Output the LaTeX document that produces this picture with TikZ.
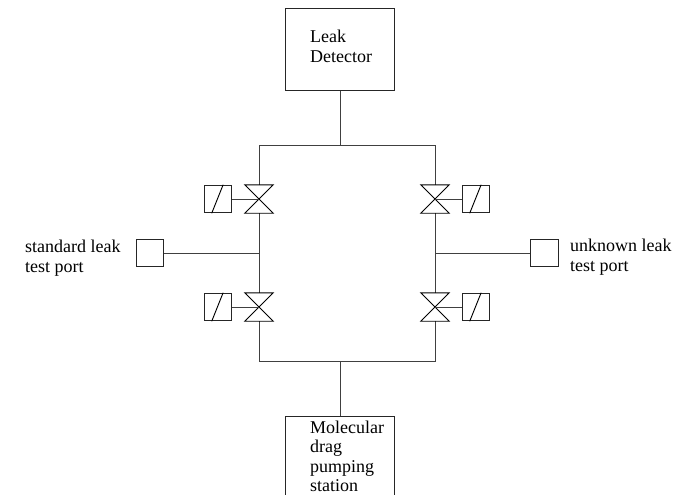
\documentclass[tikz,border=0pt]{standalone}
\usepackage{fontspec}
\usetikzlibrary{calc}
\setmainfont{Liberation Serif}
\tikzset{
  px/.style={x=1pt,y=-1pt},
  line/.style={draw=black!75,line width=0.95pt},
  boxnode/.style={draw=black!85,line width=1pt,fill=white,inner sep=0pt,minimum width=#1,minimum height=#1},
  boxnode/.default=27.5pt,
  valvespot/.style={inner sep=0pt,minimum width=28pt,minimum height=28pt},
  thin part/.style={draw=black,line width=0.9pt},
  label/.style={inner sep=0pt,anchor=base west,font=\fontsize{18}{20}\selectfont}
}
\begin{document}
\begin{tikzpicture}[px]
\useasboundingbox (0,0) rectangle (681,495);
\fill[white] (0,0) rectangle (681,495);
\begin{scope}
\clip (0,0) rectangle (681,495);
\node[draw=black!85,line width=1pt,inner sep=0pt,minimum width=108.5pt,minimum height=82pt] (det) at (340,49.5) {};
\node[draw=black!85,line width=1pt,inner sep=0pt,minimum width=108.5pt,minimum height=100pt] (pump) at (340,466) {};
\end{scope}
\coordinate (tl) at (259,145);
\coordinate (tr) at (435,145);
\coordinate (bl) at (259,361);
\coordinate (br) at (435,361);
\coordinate (tm) at (340,145);
\coordinate (bm) at (340,361);
\coordinate (ml) at (259,253);
\coordinate (mr) at (435,253);
\node[valvespot] (v1) at (259,199) {};
\node[valvespot] (v2) at (435,199) {};
\node[valvespot] (v3) at (259,307) {};
\node[valvespot] (v4) at (435,307) {};
\node[boxnode] (a1) at (218,199) {};
\node[boxnode] (a2) at (476,199) {};
\node[boxnode] (a3) at (218,307) {};
\node[boxnode] (a4) at (476,307) {};
\node[boxnode] (pl) at (150,253) {};
\node[boxnode] (pr) at (544.5,253) {};
\draw[line] (det.south) -- (tm);
\draw[line] (pump.north) -- (bm);
\draw[line] (v1.north) -- (tl) -- (tr) -- (v2.north);
\draw[line] (v3.south) -- (bl) -- (br) -- (v4.south);
\draw[line] (v1.south) -- (v3.north);
\draw[line] (v2.south) -- (v4.north);
\draw[line] (pl.east) -- (ml);
\draw[line] (pr.west) -- (mr);
\foreach \v in {v1,v2,v3,v4}
  \draw[thin part,line join=miter] (\v.north west) -- (\v.north east) -- (\v.south west) -- (\v.south east) -- cycle;
\draw[line] (a1.east) -- (v1.center);
\draw[line] (a3.east) -- (v3.center);
\draw[line] (a2.west) -- (v2.center);
\draw[line] (a4.west) -- (v4.center);
\foreach \a in {a1,a2,a3,a4}
  \draw[thin part] ($(\a.north west)!0.68!(\a.north east)$) -- ($(\a.south west)!0.28!(\a.south east)$);
\node[label] (t1) at (310,43) {Leak};
\node[label] (t2) at (310,63) {Detector};
\node[label] (t3) at (25,252) {standard leak};
\node[label] (t4) at (25,272) {test port};
\node[label] (t5) at (570,251) {unknown leak};
\node[label] (t6) at (570,271) {test port};
\node[label] (t7) at (310,433) {Molecular};
\node[label] (t8) at (310,452) {drag};
\node[label] (t9) at (310,472) {pumping};
\node[label] (t10) at (310,491) {station};
\end{tikzpicture}
\end{document}
